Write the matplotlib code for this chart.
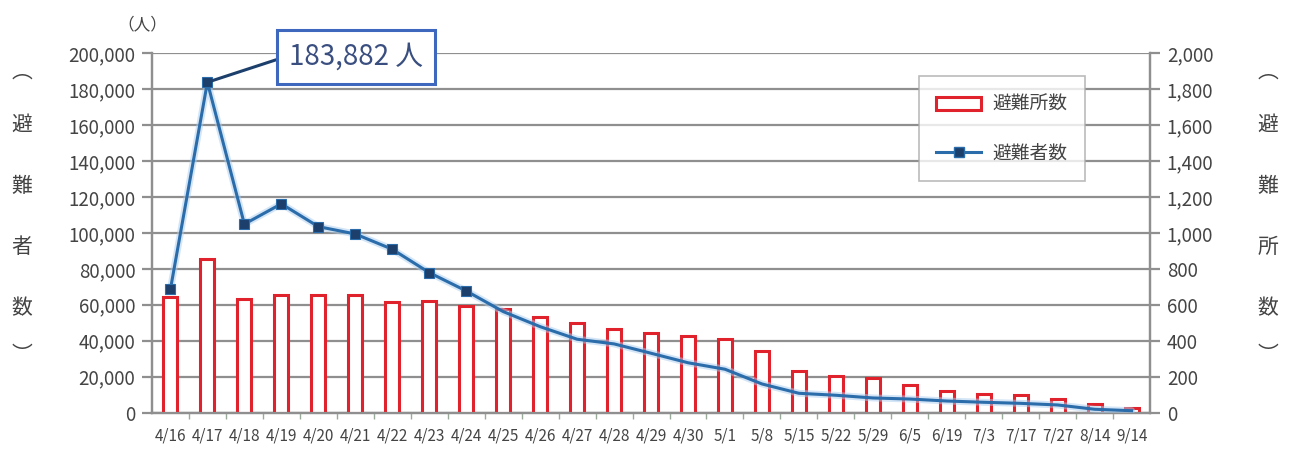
import numpy as np
import matplotlib
matplotlib.use('Agg')
import matplotlib.pyplot as plt
from matplotlib.lines import Line2D
from matplotlib.patches import Patch

plt.rcParams['font.family'] = ['Noto Sans CJK JP', 'DejaVu Sans']

# -------- data --------------------------------------------------

dates = ['4/16', '4/17', '4/18', '4/19', '4/20', '4/21', '4/22', '4/23', '4/24',
         '4/25', '4/26', '4/27', '4/28', '4/29', '4/30', '5/1', '5/8', '5/15',
         '5/22', '5/29', '6/5', '6/19', '7/3', '7/17', '7/27', '8/14', '9/14']

# evacuees (left axis, persons)
evacuees = [68600, 183882, 104900, 116200, 103500, 99400, 90900, 77900, 67700,
            56200, 47800, 40800, 38200, 33000, 27700, 24100, 15900, 10700,
            9600, 8100, 7500, 6400, 5700, 5100, 4200, 1800, 1000]

# shelters (right axis, count)
shelters = [644, 855, 631, 657, 657, 657, 616, 620, 592, 579, 532, 499, 464,
            440, 425, 410, 342, 231, 203, 192, 151, 117, 104, 99, 73, 49, 26]

n_marked = 9   # markers only drawn for the first days

line_c = '#2b6cab'
mark_c = '#1d3f6c'
bar_c = '#e0222c'
grid_c = '#8f8f8f'
txt_c = '#444444'

x = np.arange(len(dates))

# -------- figure --------------------------------------------------

fig = plt.figure(figsize=(12.92, 4.53), dpi=100)
ax = fig.add_axes([0.1176, 0.0894, 0.7726, 0.7929])
ax2 = ax.twinx()

# bars + grid on the right axis, line drawn above it
ax2.bar(x, shelters, width=0.38, facecolor='white', edgecolor=bar_c, lw=2.2, zorder=3)
ax2.set_ylim(0, 2000)
ax2.set_yticks(np.arange(0, 2001, 200))
ax2.set_yticklabels([f'{v:,}' for v in range(0, 2001, 200)])
ax2.grid(axis='y', color=grid_c, lw=1.6, zorder=0)
ax2.set_axisbelow(True)

ax.set_zorder(ax2.get_zorder() + 1)
ax.patch.set_visible(False)

ax.plot(x, evacuees, color='#a9cdee', lw=5, alpha=0.5, solid_capstyle='round', zorder=4)
ax.plot(x, evacuees, color=line_c, lw=2.2, zorder=5)
ax.plot(x[:n_marked], evacuees[:n_marked], ls='none', marker='s', ms=6.5,
        mfc=mark_c, mec=line_c, mew=0.8, zorder=6)

ax.set_ylim(0, 200000)
ax.set_yticks(np.arange(0, 200001, 20000))
ax.set_yticklabels([f'{v:,}' for v in range(0, 200001, 20000)])
ax.set_xlim(-0.5, len(dates) - 0.5)
ax.set_xticks(x)
ax.set_xticklabels(dates)
ax.set_xticks(x[:-1] + 0.5, minor=True)

for a in (ax, ax2):
    for s in a.spines.values():
        s.set_color(grid_c)
        s.set_linewidth(1.6)
    a.spines['top'].set_visible(False)

ax.tick_params(axis='y', direction='out', length=7, width=1.6, color=grid_c,
               labelsize=13.5, labelcolor=txt_c, pad=5)
ax2.tick_params(axis='y', direction='out', length=7, width=1.6, color=grid_c,
                labelsize=13.5, labelcolor=txt_c, pad=5)
ax.tick_params(axis='x', which='major', length=0, labelsize=11,
               labelcolor=txt_c, pad=11)
ax.tick_params(axis='x', which='minor', direction='out', length=4, width=1,
               color='#9aaa9a')

# -------- peak annotation --------------------------------------------------

ax.annotate(f'{evacuees[1]:,} 人', xy=(x[1], evacuees[1]),
            xytext=(0.2755, 0.874), textcoords='figure fraction',
            ha='center', va='center', fontsize=20, color='#3a4f80',
            bbox=dict(boxstyle='square,pad=0.42', fc='white', ec='#3d68bd', lw=2.2),
            arrowprops=dict(arrowstyle='-', color=mark_c, lw=2.2,
                            relpos=(0, 0.55), shrinkA=0, shrinkB=0),
            zorder=10)

# -------- legend --------------------------------------------------

handles = [Patch(facecolor='white', edgecolor=bar_c, lw=2.2),
           Line2D([], [], color=line_c, lw=2.2, marker='s', ms=6.5,
                  mfc=mark_c, mec=line_c)]
leg = ax.legend(handles, ['避難所数', '避難者数'], loc='upper left',
                bbox_to_anchor=(0.768, 0.936), fontsize=13.5, frameon=True,
                fancybox=False, edgecolor='#aaaaaa', labelspacing=1.45,
                borderpad=0.95, handlelength=2.4, handletextpad=0.6,
                borderaxespad=0)
leg.get_frame().set_linewidth(1.2)
for t in leg.get_texts():
    t.set_color(txt_c)

# -------- axis titles (vertical) --------------------------------------------------

fig.text(0.110, 0.945, '（人）', fontsize=12, color=txt_c, ha='center', va='center')

left_chars = ['︵', '避', '難', '者', '数', '︶']
right_chars = ['︵', '避', '難', '所', '数', '︶']
ys = [72, 125, 186, 247, 308, 355]
for ch, yy in zip(left_chars, ys):
    fig.text(22 / 1292, 1 - yy / 453, ch, fontsize=15, color=txt_c,
             ha='center', va='center')
for ch, yy in zip(right_chars, ys):
    fig.text(1268 / 1292, 1 - yy / 453, ch, fontsize=15, color=txt_c,
             ha='center', va='center')

fig.savefig('out.png', dpi=100)
